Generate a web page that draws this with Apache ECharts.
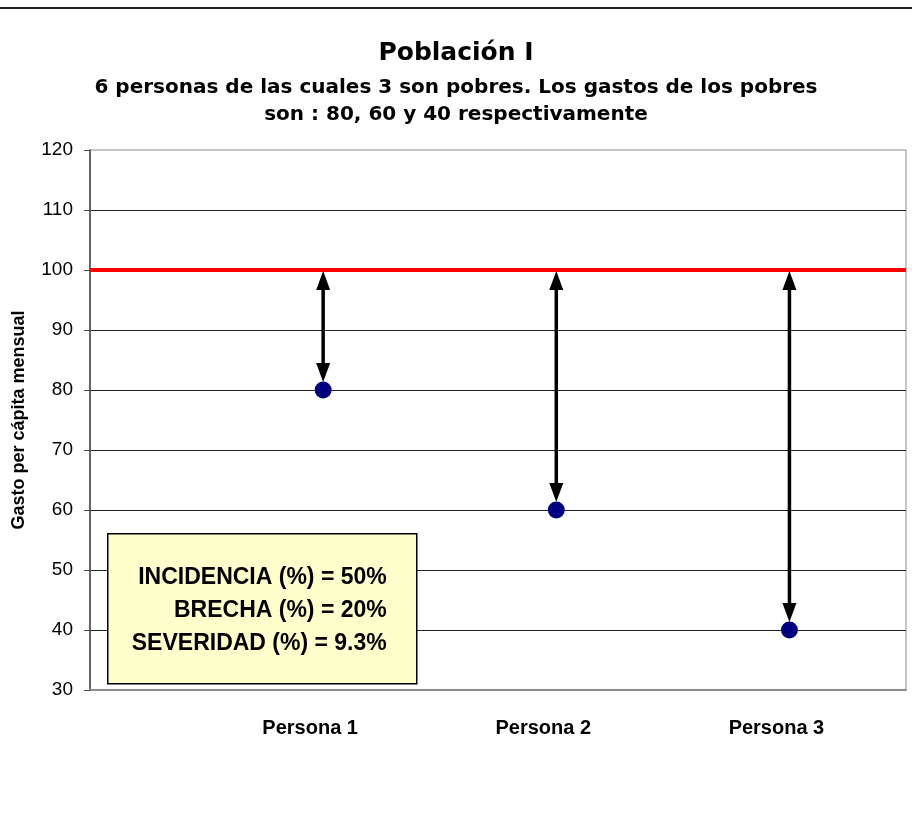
<!DOCTYPE html>
<html>
<head>
<meta charset="utf-8">
<title>Población I</title>
<script src="https://cdn.jsdelivr.net/npm/echarts@6/dist/echarts.min.js"></script>
<style>
  html, body { margin: 0; padding: 0; background: #fff; }
  #chart { width: 912px; height: 832px; }
</style>
</head>
<body>
<div id="chart"></div>
<script>
// datos
const personas = ['Persona 1', 'Persona 2', 'Persona 3']
const gastos = [80, 60, 40]
const lineaPobreza = 100
const yMin = 30
const yMax = 120
const yStep = 10
const indicadores = [
  'INCIDENCIA (%) = 50%',
  'BRECHA (%) = 20%',
  'SEVERIDAD (%) = 9.3%'
]

const puntos = gastos.map((g, i) => [i + 1, g])

const chart = echarts.init(document.getElementById('chart'))

const arial = '"Liberation Sans", Arial, sans-serif'
const dejavu = '"DejaVu Sans", sans-serif'

// flecha doble entre la linea de pobreza y el gasto
const renderArrow = (params, api) => {
  const x = api.value(0)
  const top = api.coord([x, lineaPobreza])
  const bot = api.coord([x, api.value(1)])
  const r = 8, hl = 19, hw = 7
  const y1 = top[1] + 1
  const y2 = bot[1] - r
  return {
    type: 'group',
    children: [
      {
        type: 'line',
        shape: { x1: top[0], y1: y1 + hl - 2, x2: bot[0], y2: y2 - hl + 2 },
        style: { stroke: '#000', lineWidth: 3.5 }
      },
      {
        type: 'polygon',
        shape: { points: [[top[0], y1], [top[0] - hw, y1 + hl], [top[0] + hw, y1 + hl]] },
        style: { fill: '#000' }
      },
      {
        type: 'polygon',
        shape: { points: [[bot[0], y2], [bot[0] - hw, y2 - hl], [bot[0] + hw, y2 - hl]] },
        style: { fill: '#000' }
      }
    ]
  }
}

const option = {
  backgroundColor: '#fff',
  animation: false,
  title: {
    text: 'Población I',
    subtext: '6 personas de las cuales 3 son pobres. Los gastos de los pobres\nson : 80, 60 y 40 respectivamente',
    left: 'center',
    top: 36,
    itemGap: 8,
    textStyle: { fontFamily: dejavu, fontSize: 25, fontWeight: 'bold', color: '#000' },
    subtextStyle: { fontFamily: dejavu, fontSize: 20, fontWeight: 'bold', color: '#000', lineHeight: 27, align: 'center' }
  },
  grid: {
    left: 90,
    right: 6,
    top: 150,
    bottom: 142,
    show: true,
    borderColor: '#8c8c8c',
    borderWidth: 1
  },
  xAxis: {
    type: 'value',
    min: 0,
    max: 3.5,
    interval: 1,
    axisLine: { show: true, lineStyle: { color: '#8c8c8c', width: 2 } },
    axisTick: { show: false },
    splitLine: { show: false },
    axisLabel: {
      margin: 28,
      fontFamily: arial,
      fontSize: 20,
      fontWeight: 'bold',
      color: '#000',
      padding: [0, 26, 0, 0],
      formatter: v => personas[v - 1] || ''
    }
  },
  yAxis: {
    type: 'value',
    min: yMin,
    max: yMax,
    interval: yStep,
    name: 'Gasto per cápita mensual',
    nameLocation: 'middle',
    nameGap: 62,
    nameTextStyle: { fontFamily: arial, fontSize: 18, fontWeight: 'bold', color: '#000' },
    axisLine: { show: true, lineStyle: { color: '#444', width: 1.5 } },
    axisTick: { show: true, inside: false, length: 6, lineStyle: { color: '#444' } },
    axisLabel: { margin: 17, fontFamily: arial, fontSize: 19, color: '#000' },
    splitLine: { show: true, showMinLine: false, showMaxLine: false, lineStyle: { color: '#222', width: 1 } }
  },
  series: [
    {
      name: 'Línea de pobreza',
      type: 'line',
      data: [],
      silent: true,
      markLine: {
        silent: true,
        symbol: 'none',
        label: { show: false },
        lineStyle: { color: '#ff0000', width: 4, type: 'solid' },
        data: [{ yAxis: lineaPobreza }]
      },
      z: 3
    },
    {
      name: 'Brecha',
      type: 'custom',
      renderItem: renderArrow,
      data: puntos,
      silent: true,
      z: 4
    },
    {
      name: 'Gasto',
      type: 'scatter',
      data: puntos,
      symbol: 'circle',
      symbolSize: 17,
      itemStyle: { color: '#000080', opacity: 1 },
      z: 5
    }
  ],
  graphic: [
    {
      type: 'rect',
      left: 0,
      top: 7,
      shape: { width: 912, height: 2 },
      style: { fill: '#222' },
      z: 100
    },
    {
      type: 'group',
      left: 107,
      top: 533,
      z: 100,
      children: [
        {
          type: 'rect',
          shape: { x: 0, y: 0, width: 309, height: 150 },
          style: { fill: '#ffffcc', stroke: '#000', lineWidth: 1.5 },
          z: 100
        },
        ...indicadores.map((t, i) => ({
          type: 'text',
          x: 279,
          y: 44 + i * 33,
          style: {
            text: t,
            textAlign: 'right',
            textVerticalAlign: 'middle',
            font: 'bold 23px ' + arial,
            fill: '#000'
          },
          z: 101
        }))
      ]
    }
  ]
}

chart.setOption(option)
</script>
</body>
</html>
